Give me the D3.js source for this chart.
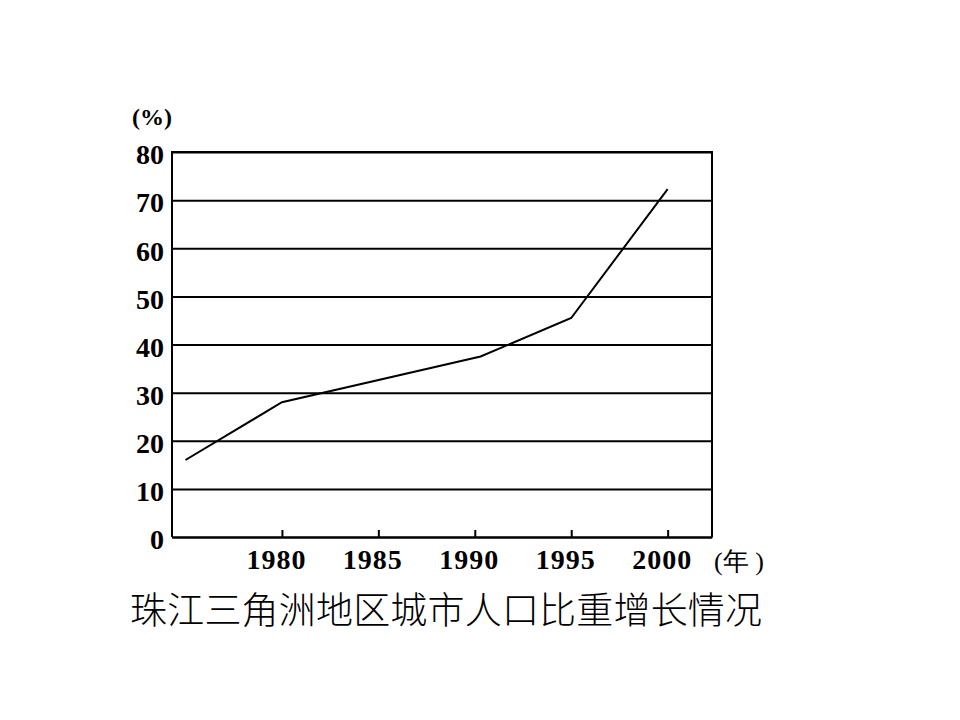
<!DOCTYPE html>
<html>
<head>
<meta charset="utf-8">
<script src="https://cdn.jsdelivr.net/npm/d3@7"></script>
<style>
  body { margin: 0; background: #fff; }
</style>
</head>
<body>
<div id="chart"></div>
<script>
// 珠江三角洲地区城市人口比重 (%)
const years   = [1975, 1980, 1990.3, 1995, 2000];
const values  = [16, 28, 37.5, 45.5, 72.3];
const xTicks  = [1980, 1985, 1990, 1995, 2000];
const yTicks  = [0, 10, 20, 30, 40, 50, 60, 70, 80];
const xRange  = [1974.3, 2002.3];

const serif = "'Liberation Serif', 'Times New Roman', serif";

const canvasWidth  = 960;
const canvasHeight = 720;
const margin = { top: 152, left: 172 };
const width  = 540;
const height = 385;

let x = d3.scaleLinear().domain(xRange).range([0, width]);
let y = d3.scaleLinear().domain([0, 80]).range([height, 0]);

let svg = d3.select("#chart").append("svg")
	.attr("width", canvasWidth)
	.attr("height", canvasHeight)
	.append("g")
		.attr("transform", "translate(" + margin.left + "," + margin.top + ")");

// horizontal grid lines + y labels
let yAxis = svg.append("g")
	.call(d3.axisLeft(y).tickValues(yTicks).tickSize(-width).tickSizeOuter(0).tickFormat(d3.format("d")))
	.attr("font-family", serif);
yAxis.select(".domain").remove();
yAxis.selectAll(".tick line").attr("stroke", "#000").attr("stroke-width", 2);
yAxis.selectAll(".tick text")
	.attr("x", -8)
	.attr("dy", "0.42em")
	.attr("fill", "#000")
	.style("font-family", serif)
	.style("font-size", "28px")
	.style("font-weight", "bold");

// frame: left, top, right
svg.append("path")
	.attr("d", "M0," + height + "V0H" + width + "V" + height)
	.attr("fill", "none")
	.attr("stroke", "#000")
	.attr("stroke-width", 2);

// bottom axis with inward ticks
let xAxis = svg.append("g")
	.attr("transform", "translate(0," + height + ")")
	.call(d3.axisBottom(x).tickValues(xTicks).tickSizeInner(-7).tickSizeOuter(0).tickFormat(d3.format("d")))
	.attr("font-family", serif);
xAxis.select(".domain").attr("stroke", "#000").attr("stroke-width", 2);
xAxis.selectAll(".tick line").attr("stroke", "#000").attr("stroke-width", 2);
xAxis.selectAll(".tick text")
	.attr("y", 12)
	.attr("dx", -6)
	.attr("dy", "0.71em")
	.attr("fill", "#000")
	.style("font-family", serif)
	.style("font-size", "28px")
	.style("letter-spacing", "1px")
	.style("font-weight", "bold");

// data line
svg.append("path")
	.datum(years.map((d, i) => [d, values[i]]))
	.attr("fill", "none")
	.attr("stroke", "#000")
	.attr("stroke-width", 2)
	.attr("d", d3.line().x((d) => x(d[0])).y((d) => y(d[1])));

// unit labels
svg.append("text")
	.attr("x", -40).attr("y", -27)
	.style("font-family", serif)
	.style("font-size", "24px")
	.style("font-weight", "bold")
	.text("(%)");

svg.append("text")
	.attr("x", width + 2).attr("y", height + 33)
	.style("font-family", serif)
	.style("font-size", "26px")
	.text("(年 )");

// caption
svg.append("text")
	.attr("x", 130 - margin.left).attr("y", 624 - margin.top)
	.attr("textLength", 632)
	.attr("lengthAdjust", "spacing")
	.style("font-family", "'Noto Sans CJK SC', sans-serif")
	.style("font-size", "37px")
	.style("font-weight", "300")
	.text("珠江三角洲地区城市人口比重增长情况");
</script>
</body>
</html>
